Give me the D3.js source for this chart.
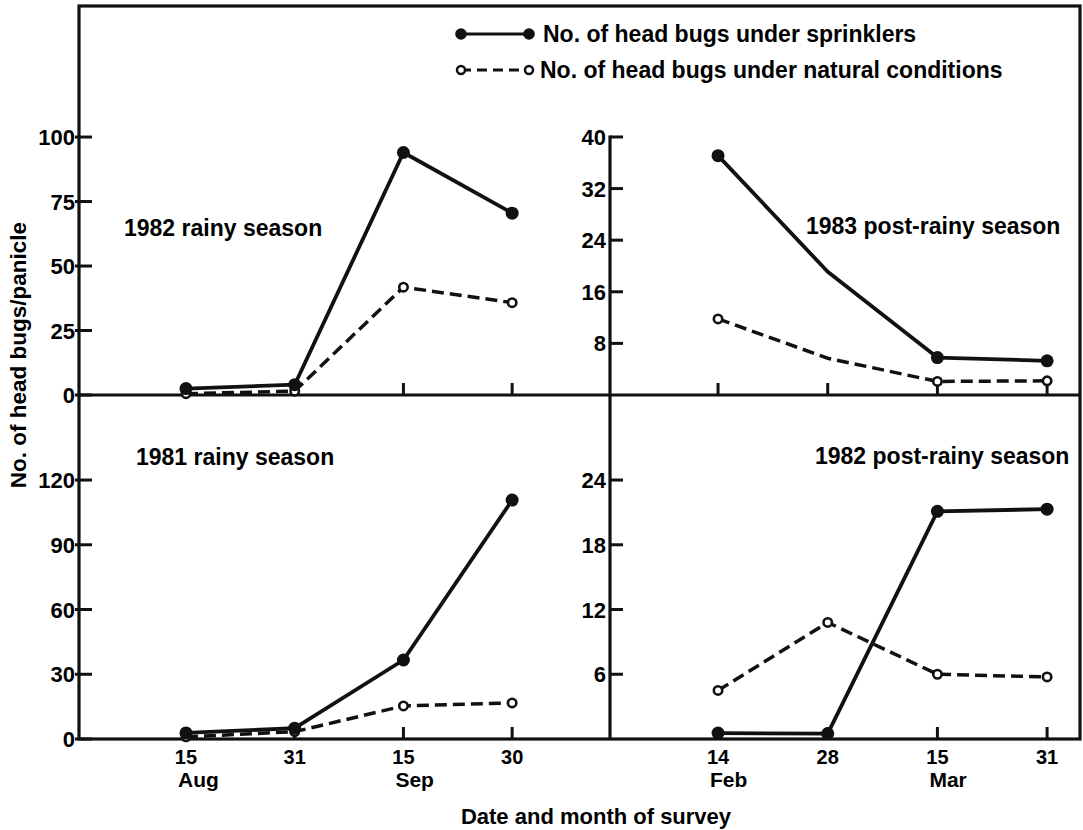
<!DOCTYPE html>
<html>
<head>
<meta charset="utf-8">
<script src="https://cdn.jsdelivr.net/npm/d3@7"></script>
<style>
  body { margin: 0; background: #fff; }
  svg text { font-family: "Liberation Sans", Arial, sans-serif; font-weight: bold; fill: #000; }
</style>
</head>
<body>
<div class="vis-chart"></div>
<script>
// date ticks on the two x axes
const rainyDays = ["15", "31", "15", "30"];
const rainyMonths = ["Aug", "", "Sep", ""];
const postDays = ["14", "28", "15", "31"];
const postMonths = ["Feb", "", "Mar", ""];

// y tick values per panel
const ticks1982Rainy = [0, 25, 50, 75, 100];
const ticks1983Post = [8, 16, 24, 32, 40];
const ticks1981Rainy = [0, 30, 60, 90, 120];
const ticks1982Post = [6, 12, 18, 24];

// head bugs per panicle
const rainy1982Sprinkler = [2.5, 4, 94, 70.5];
const rainy1982Natural = [0.5, 1.5, 41.8, 35.8];
const post1983Sprinkler = [37.1, 19.1, 5.8, 5.3];
const post1983Natural = [11.8, 5.7, 2.1, 2.2];
const rainy1981Sprinkler = [2.8, 5, 36.6, 110.7];
const rainy1981Natural = [1, 3.4, 15.3, 16.7];
const post1982Sprinkler = [0.55, 0.5, 21.1, 21.3];
const post1982Natural = [4.5, 10.8, 6.0, 5.75];

const legendLabels = ["No. of head bugs under sprinklers", "No. of head bugs under natural conditions"];

const W = 1083, H = 830;
const box = { left: 79, top: 6, right: 1080, bottom: 739 };
const midY = 395, midX = 610;

const svg = d3.select('.vis-chart').append('svg')
    .attr('width', W).attr('height', H);

const xLeft = d3.scaleLinear().domain([-0.984, 3.9]).range([box.left, midX]);
const xRight = d3.scaleLinear().domain([-0.985, 3.3]).range([midX, box.right]);

const panels = [
    { label: "1982 rainy season", lx: 124, ly: 236, x: xLeft, axisX: box.left, y: d3.scaleLinear().domain([0, 150.8]).range([midY, box.top]),
      ticks: ticks1982Rainy, zeroLabel: true, s: rainy1982Sprinkler, n: rainy1982Natural, hide: [] },
    { label: "1983 post-rainy season", lx: 806, ly: 234, x: xRight, axisX: midX, y: d3.scaleLinear().domain([0, 60.3]).range([midY, box.top]),
      ticks: ticks1983Post, zeroLabel: false, s: post1983Sprinkler, n: post1983Natural, hide: [1] },
    { label: "1981 rainy season", lx: 136, ly: 465, x: xLeft, axisX: box.left, y: d3.scaleLinear().domain([0, 159.4]).range([box.bottom, midY]),
      ticks: ticks1981Rainy, zeroLabel: true, s: rainy1981Sprinkler, n: rainy1981Natural, hide: [] },
    { label: "1982 post-rainy season", lx: 815, ly: 464, x: xRight, axisX: midX, y: d3.scaleLinear().domain([0, 31.88]).range([box.bottom, midY]),
      ticks: ticks1982Post, zeroLabel: false, s: post1982Sprinkler, n: post1982Natural, hide: [] }
];

const ink = '#111';

// frame
svg.append('rect')
    .attr('x', box.left).attr('y', box.top)
    .attr('width', box.right - box.left).attr('height', box.bottom - box.top)
    .attr('fill', 'none').attr('stroke', ink).attr('stroke-width', 3.2);
svg.append('line')
    .attr('x1', box.left).attr('x2', box.right).attr('y1', midY).attr('y2', midY)
    .attr('stroke', ink).attr('stroke-width', 3.2);
// right-hand y axis runs from 40 in the top panel down to the bottom
svg.append('line')
    .attr('x1', midX).attr('x2', midX)
    .attr('y1', panels[1].y(40) - 1.5).attr('y2', box.bottom)
    .attr('stroke', ink).attr('stroke-width', 3.2);

const line = d3.line();

panels.forEach(function (p) {
    const g = svg.append('g');
    const base = p.y(0);

    // y ticks
    const tickVals = p.ticks;
    g.selectAll('.yt').data(tickVals).enter().append('line')
        .attr('x1', p.axisX - (p.axisX === box.left ? 4 : 0))
        .attr('x2', p.axisX + 13)
        .attr('y1', d => p.y(d)).attr('y2', d => p.y(d))
        .attr('stroke', ink).attr('stroke-width', 3);
    g.selectAll('.yl').data(tickVals.filter(d => d !== 0 || p.zeroLabel)).enter().append('text')
        .attr('x', p.axisX - 4).attr('y', d => p.y(d) + 8)
        .attr('text-anchor', 'end')
        .style('font-size', '22px')
        .text(d => d);

    // x ticks pointing up from the baseline
    g.selectAll('.xt').data(d3.range(4)).enter().append('line')
        .attr('x1', d => p.x(d)).attr('x2', d => p.x(d))
        .attr('y1', base).attr('y2', base - 12)
        .attr('stroke', ink).attr('stroke-width', 3);

    // natural conditions, dashed
    const nPts = p.n.map((v, i) => [p.x(i), p.y(v)]);
    g.append('path').attr('d', line(nPts))
        .attr('fill', 'none').attr('stroke', ink).attr('stroke-width', 3.5)
        .attr('stroke-dasharray', '12,6');
    // sprinklers, solid
    const sPts = p.s.map((v, i) => [p.x(i), p.y(v)]);
    g.append('path').attr('d', line(sPts))
        .attr('fill', 'none').attr('stroke', ink).attr('stroke-width', 3.8)
        .attr('stroke-linejoin', 'round');

    g.selectAll('.nm').data(nPts.filter((d, i) => p.hide.indexOf(i) < 0)).enter().append('circle')
        .attr('cx', d => d[0]).attr('cy', d => d[1]).attr('r', 4.2)
        .attr('fill', '#fff').attr('stroke', ink).attr('stroke-width', 2.6);
    g.selectAll('.sm').data(sPts.filter((d, i) => p.hide.indexOf(i) < 0)).enter().append('circle')
        .attr('cx', d => d[0]).attr('cy', d => d[1]).attr('r', 6.5)
        .attr('fill', ink);

    g.append('text')
        .attr('x', p.lx).attr('y', p.ly)
        .style('font-size', '23px')
        .text(p.label);
});

// x tick labels
function dateLabels(x, days, months) {
    const g = svg.append('g');
    g.selectAll('.d').data(days).enter().append('text')
        .attr('x', (d, i) => x(i)).attr('y', 764)
        .attr('text-anchor', 'middle')
        .style('font-size', '20px')
        .text(d => d);
    g.selectAll('.m').data(months).enter().append('text')
        .attr('x', (d, i) => x(i) - 8).attr('y', 787)
        .style('font-size', '21px')
        .text(d => d);
}
dateLabels(xLeft, rainyDays, rainyMonths);
dateLabels(xRight, postDays, postMonths);

svg.append('text')
    .attr('x', 596).attr('y', 824)
    .attr('text-anchor', 'middle')
    .style('font-size', '22px')
    .text('Date and month of survey');

svg.append('text')
    .attr('transform', 'translate(26,355) rotate(-90)')
    .attr('text-anchor', 'middle')
    .style('font-size', '22.5px')
    .text('No. of head bugs/panicle');

// legend
const legend = svg.selectAll('.legend').data(legendLabels).enter().append('g')
    .attr('transform', (d, i) => 'translate(0,' + (34 + i * 36) + ')');
legend.append('line')
    .attr('x1', 461).attr('x2', 529).attr('y1', 0).attr('y2', 0)
    .attr('stroke', ink).attr('stroke-width', 3)
    .attr('stroke-dasharray', (d, i) => i === 0 ? null : '10,6');
legend.each(function (d, i) {
    d3.select(this).selectAll('circle').data([461, 529]).enter().append('circle')
        .attr('cx', x => x).attr('cy', 0).attr('r', i === 0 ? 5.8 : 4)
        .attr('fill', i === 0 ? ink : '#fff')
        .attr('stroke', ink).attr('stroke-width', i === 0 ? 0 : 2.5);
});
legend.append('text')
    .attr('x', (d, i) => i === 0 ? 543 : 540).attr('y', 8)
    .style('font-size', '23px')
    .text(d => d);
</script>
</body>
</html>
